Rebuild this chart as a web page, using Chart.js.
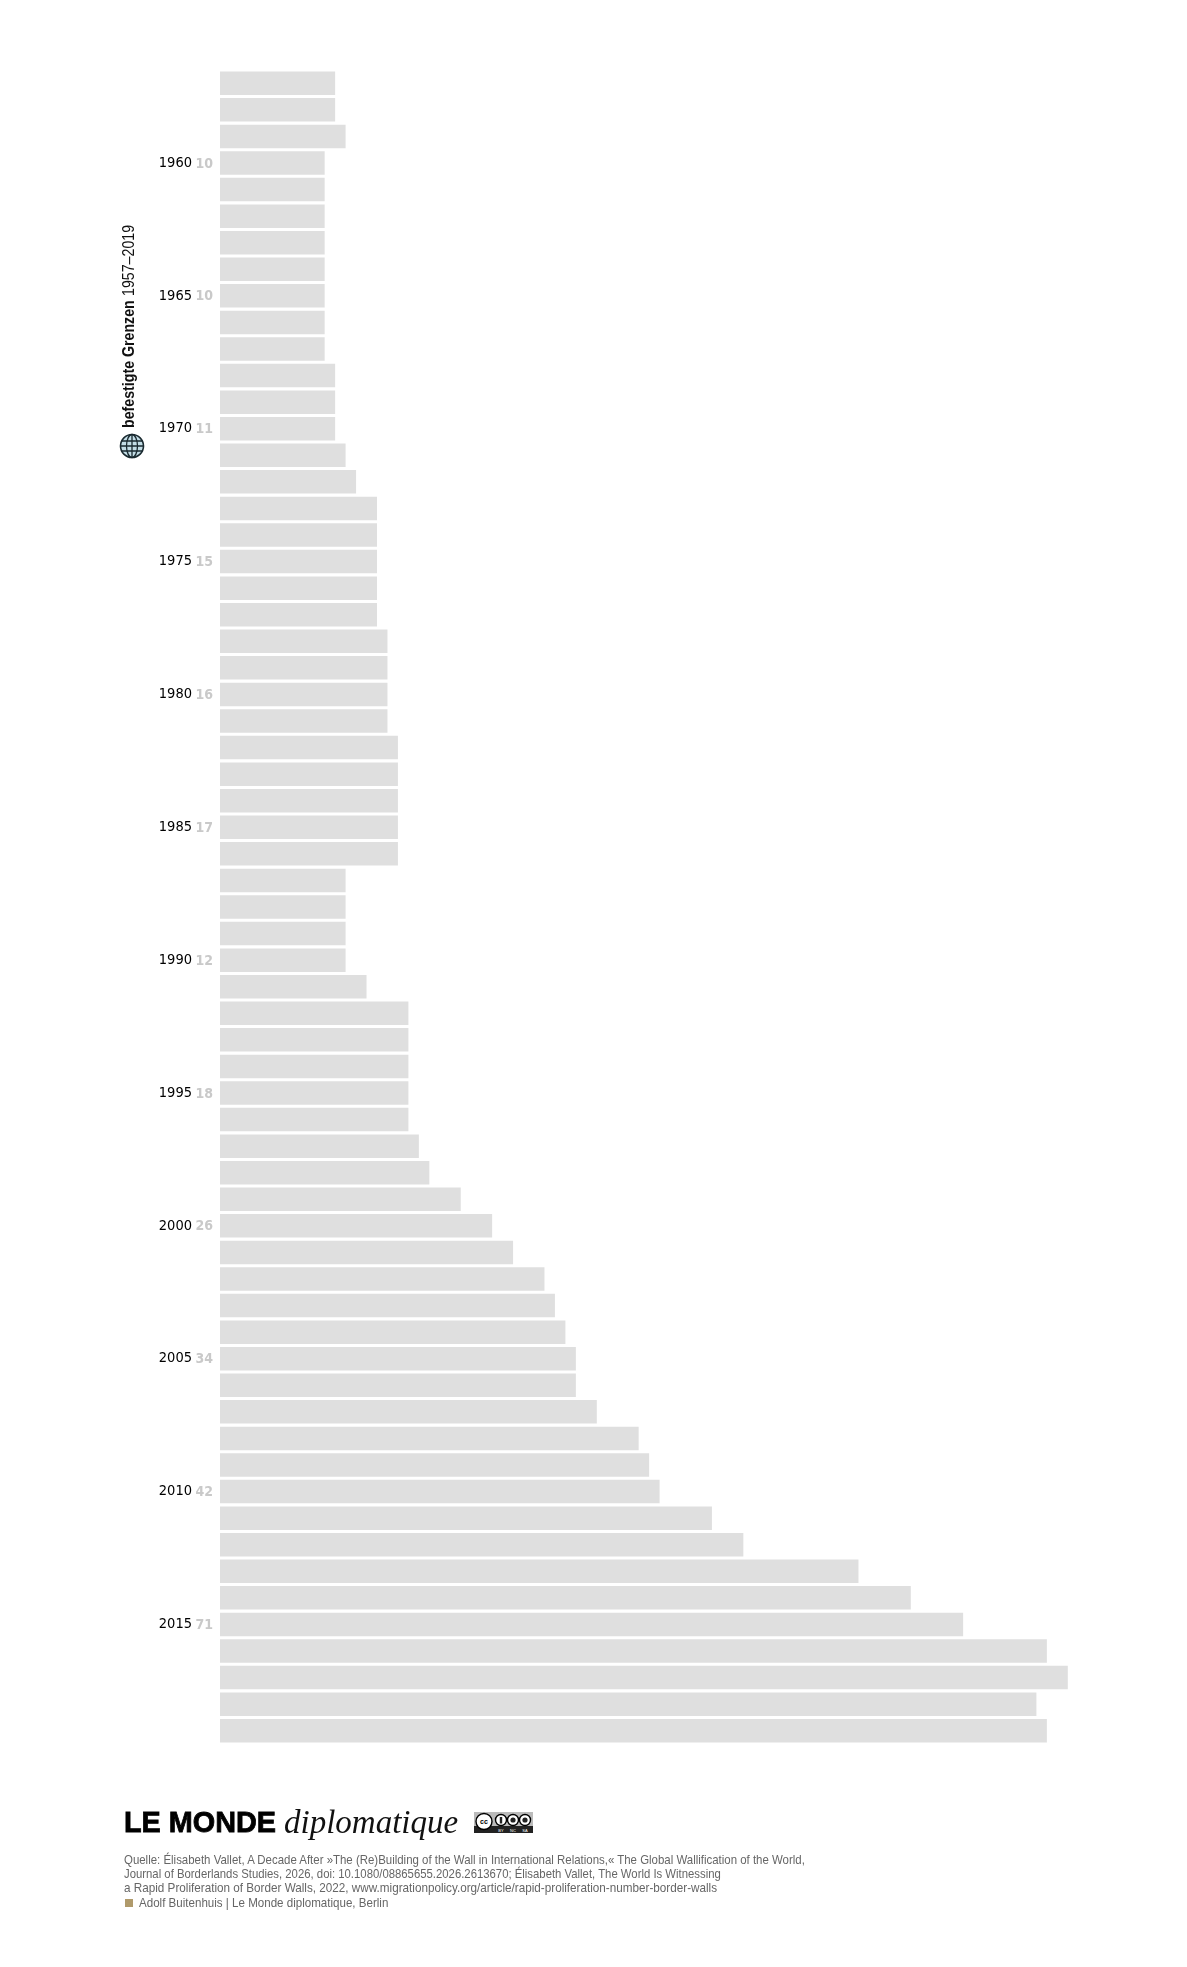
<!DOCTYPE html>
<html lang="de">
<head>
<meta charset="utf-8">
<title>befestigte Grenzen 1957–2019</title>
<script src="https://cdn.jsdelivr.net/npm/chart.js@4"></script>
<style>
    html, body { margin: 0; background: #fff; width: 1187px; height: 1967px; overflow: hidden; }
    #wrap { position: relative; width: 1187px; height: 1967px; }
    #myChart { position: absolute; left: 0; top: 0; }
    .abs { position: absolute; white-space: nowrap; }
    #heading { left: 120px; top: 428px; transform-origin: 0 0; transform: rotate(-90deg) scaleX(0.86); font: 16.5px/17px "Liberation Sans", sans-serif; color: #111; }
    #heading b { font-weight: bold; }
    #heading span { margin-left: 5px; }
    #logo1 { left: 124px; top: 1802px; transform-origin: 0 0; transform: scaleX(0.96); font: bold 30px/40px "Liberation Sans", sans-serif; color: #000; -webkit-text-stroke: 0.8px #000; }
    #logo2 { left: 284px; top: 1802px; font: italic 33px/40px "Liberation Serif", serif; color: #111; }
    .source { left: 124px; transform-origin: 0 0; transform: scaleX(0.89); font: 13px/15px "Liberation Sans", sans-serif; color: #666; }
    #square { left: 125px; top: 1899px; width: 8px; height: 8px; background: #b09a6b; }
</style>
</head>
<body>
<div id="wrap">
    <canvas id="myChart" width="1187" height="1967"></canvas>

    <svg class="abs" style="left:119px;top:433px" width="26" height="26" viewBox="0 0 26 26">
        <circle cx="13" cy="13" r="11.5" fill="#c3dde6" stroke="#1a2a30" stroke-width="1.6"/>
        <g fill="none" stroke="#1a2a30" stroke-width="1.3">
            <ellipse cx="13" cy="13" rx="5.5" ry="11.5"/>
            <path d="M13 1.5V24.5M2.5 8H23.5M1.5 13H24.5M2.5 18H23.5"/>
        </g>
    </svg>
    <div class="abs" id="heading"><b>befestigte Grenzen</b><span>1957–2019</span></div>

    <div class="abs" id="logo1">LE MONDE</div>
    <div class="abs" id="logo2">diplomatique</div>
    <svg class="abs" style="left:474px;top:1812px" width="59" height="21" viewBox="0 0 59 21">
        <rect width="59" height="21" fill="#bbb"/>
        <rect y="14" width="59" height="7" fill="#222"/>
        <g fill="#fff" stroke="#000" stroke-width="1.4">
            <circle cx="10" cy="9.5" r="8"/>
            <circle cx="27" cy="8" r="5.5"/>
            <circle cx="39" cy="8" r="5.5"/>
            <circle cx="51" cy="8" r="5.5"/>
        </g>
        <g fill="#222">
            <rect x="25.8" y="5" width="2.4" height="6.5"/>
            <circle cx="39" cy="8" r="2.6"/>
            <circle cx="51" cy="8" r="2.6"/>
        </g>
        <g font-family="Liberation Sans" font-size="7" font-weight="bold" text-anchor="middle">
            <text x="10" y="12">cc</text>
        </g>
        <g font-family="Liberation Sans" font-size="4" fill="#fff" text-anchor="middle">
            <text x="27" y="19.5">BY</text>
            <text x="39" y="19.5">NC</text>
            <text x="51" y="19.5">SA</text>
        </g>
    </svg>

    <div class="abs source" style="top:1852px;transform:scaleX(0.88)">Quelle: Élisabeth Vallet, A Decade After »The (Re)Building of the Wall in International Relations,« The Global Wallification of the World,</div>
    <div class="abs source" style="top:1866px;transform:scaleX(0.872)">Journal of Borderlands Studies, 2026, doi: 10.1080/08865655.2026.2613670; Élisabeth Vallet, The World Is Witnessing</div>
    <div class="abs source" style="top:1880px;transform:scaleX(0.90)">a Rapid Proliferation of Border Walls, 2022, www.migrationpolicy.org/article/rapid-proliferation-number-border-walls</div>
    <div class="abs" id="square"></div>
    <div class="abs source" style="left:139px;top:1895px">Adolf Buitenhuis | Le Monde diplomatique, Berlin</div>
</div>

<script>
// Jahre 1957-2019
let years = [1957,1958,1959,1960,1961,1962,1963,1964,1965,1966,
    1967,1968,1969,1970,1971,1972,1973,1974,1975,1976,
    1977,1978,1979,1980,1981,1982,1983,1984,1985,1986,
    1987,1988,1989,1990,1991,1992,1993,1994,1995,1996,
    1997,1998,1999,2000,2001,2002,2003,2004,2005,2006,
    2007,2008,2009,2010,2011,2012,2013,2014,2015,2016,
    2017,2018,2019];
let walls = [11,11,12,10,10,10,10,10,10,10,
    10,11,11,11,12,13,15,15,15,15,
    15,16,16,16,16,17,17,17,17,17,
    12,12,12,12,14,18,18,18,18,18,
    19,20,23,26,28,31,32,33,34,34,
    36,40,41,42,47,50,61,66,71,79,
    81,78,79];
let labeledYears = [1960,1965,1970,1975,1980,1985,1990,1995,2000,2005,2010,2015];

// graue Zahl neben der Jahreszahl
const valueLabels = {
    id: 'valueLabels',
    afterDraw(chart) {
        let c = chart.ctx;
        let yScale = chart.scales.y;
        c.save();
        c.font = 'bold 14px "DejaVu Sans Condensed", sans-serif';
        c.fillStyle = '#c9c9c9';
        c.textAlign = 'right';
        c.textBaseline = 'middle';
        labeledYears.forEach((year) => {
            let i = years.indexOf(year);
            c.fillText(walls[i], 213, yScale.getPixelForValue(i) + 1);
        });
        c.restore();
    }
};

let ctx = document.getElementById('myChart').getContext('2d');
let myChart = new Chart(ctx, {
    type: 'bar',
    data: {
        labels: years,
        datasets: [{
            data: walls,
            backgroundColor: '#dfdfdf',
            barPercentage: 0.885,
            categoryPercentage: 1,
        }]
    },
    plugins: [valueLabels],
    options: {
        indexAxis: 'y',
        responsive: false,
        animation: false,
        layout: {
            padding: { top: 70, bottom: 223, right: 25 }
        },
        scales: {
            x: {
                display: false,
                min: 0,
                max: 90,
            },
            y: {
                afterFit: (scale) => { scale.width = 220; },
                border: { display: false },
                grid: { display: false },
                ticks: {
                    autoSkip: false,
                    maxRotation: 0,
                    padding: 20,
                    color: '#000',
                    font: { family: '"DejaVu Sans Condensed", sans-serif', size: 14.5 },
                    callback: function(value) {
                        let year = years[value];
                        return labeledYears.includes(year) ? year : '';
                    },
                }
            }
        },
        plugins: {
            legend: { display: false },
            tooltip: { enabled: false },
        }
    }
});
</script>
</body>
</html>
